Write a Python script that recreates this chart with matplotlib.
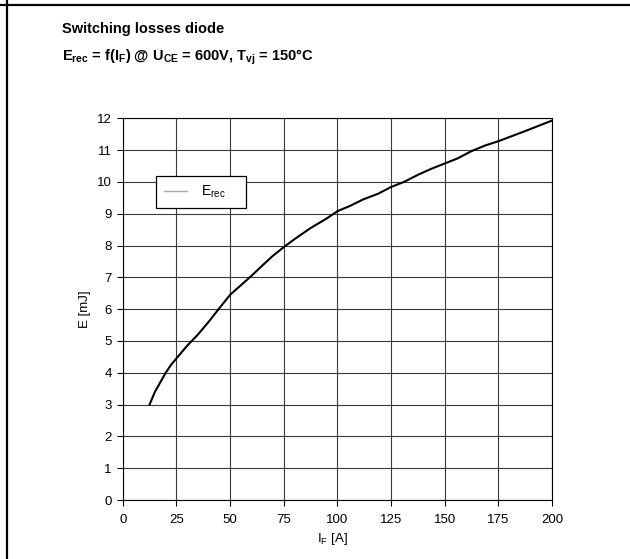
import matplotlib
matplotlib.use('Agg')
import matplotlib.pyplot as plt
from matplotlib.lines import Line2D
import numpy as np

# diode reverse recovery energy vs forward current
i_f = [12.5, 15, 17.5, 20, 22.5, 25, 30, 35, 40, 45, 50, 55, 60, 65, 70,
       75, 80, 87.5, 95, 100, 106, 112, 119, 125, 131, 138, 144, 150, 156,
       162.5, 169, 175, 187.5, 200]
e_rec = [3.0, 3.4, 3.7, 4.0, 4.25, 4.45, 4.85, 5.2, 5.6, 6.03, 6.45, 6.75,
         7.05, 7.37, 7.68, 7.95, 8.2, 8.55, 8.85, 9.08, 9.25, 9.45, 9.63,
         9.84, 10.0, 10.24, 10.42, 10.58, 10.74, 10.97, 11.15, 11.28, 11.6,
         11.93]

x_ticks = [0, 25, 50, 75, 100, 125, 150, 175, 200]
y_ticks = list(range(0, 13))

plt.rcParams['font.family'] = ['Liberation Sans', 'DejaVu Sans']
plt.rcParams['mathtext.fontset'] = 'custom'
plt.rcParams['mathtext.rm'] = 'Liberation Sans'
plt.rcParams['mathtext.bf'] = 'Liberation Sans:bold'

fig = plt.figure(figsize=(6.3, 5.59), dpi=100)
ax = fig.add_axes([0.1948, 0.1055, 0.6814, 0.6828])

ax.plot(i_f, e_rec, color='black', lw=1.5, label='_nolegend_')
# legend entry is drawn in grey in the original sheet
ax.plot([], [], color='#a8a8a8', lw=1.0, label='E$_\\mathrm{rec}$    ')

ax.set_xlim(0, 200)
ax.set_ylim(0, 12)
ax.set_xticks(x_ticks)
ax.set_yticks(y_ticks)
ax.tick_params(labelsize=9.5, length=4, width=0.8, color='black')
ax.tick_params(axis='x', pad=6)
ax.tick_params(axis='y', pad=4)
ax.grid(True, color='#3a3a3a', lw=0.8)
for s in ax.spines.values():
    s.set_linewidth(0.8)
    s.set_color('black')

ax.set_xlabel('I$_\\mathrm{F}$ [A]', fontsize=9.5)
ax.set_ylabel('E [mJ]', fontsize=9.5)
ax.xaxis.set_label_coords(0.4875, -0.082)
ax.yaxis.set_label_coords(-0.075, 0.5)

leg = ax.legend(loc='upper left', bbox_to_anchor=(156/630, 1 - 176/559),
                bbox_transform=fig.transFigure, fontsize=10, frameon=True,
                fancybox=False, edgecolor='black', framealpha=1,
                borderpad=0.55, handlelength=1.7, handletextpad=1.0,
                borderaxespad=0)
leg.get_frame().set_linewidth(0.9)

fig.text(62/630, 1 - 29/559, 'Switching losses diode', fontsize=10.5,
         fontweight='bold', va='center', ha='left')
fig.text(62/630, 1 - 57/559,
         'E$_\\mathbf{rec}$ = f(I$_\\mathbf{F}$) @ U$_\\mathbf{CE}$ = 600V, '
         'T$_\\mathbf{vj}$ = 150°C',
         fontsize=10.5, fontweight='bold', va='center', ha='left')

# page frame lines
fig.add_artist(Line2D([7/630, 7/630], [0, 1], transform=fig.transFigure,
                      color='black', lw=1.6))
fig.add_artist(Line2D([0, 1], [1 - 5/559, 1 - 5/559], transform=fig.transFigure,
                      color='black', lw=1.6))

plt.savefig('out.png', dpi=100)
